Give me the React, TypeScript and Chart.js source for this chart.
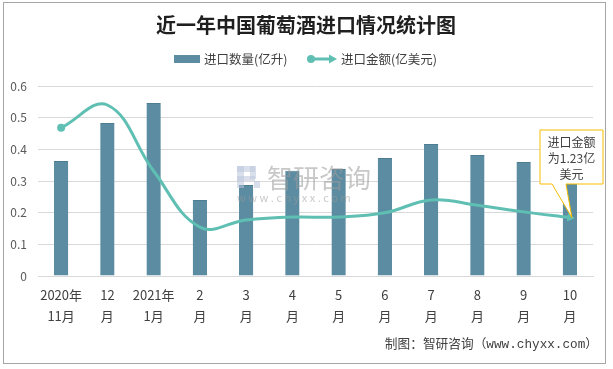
import React, { useEffect, useRef } from "react";
import { Chart, registerables } from "chart.js";

Chart.register(...registerables);

const categories: string[][] = [
  ["2020年", "11月"], ["12", "月"], ["2021年", "1月"], ["2", "月"], ["3", "月"], ["4", "月"],
  ["5", "月"], ["6", "月"], ["7", "月"], ["8", "月"], ["9", "月"], ["10", "月"],
];
const volumeValues = [0.363, 0.483, 0.546, 0.24, 0.287, 0.332, 0.338, 0.373, 0.417, 0.382, 0.36, 0.3];
const amountValues = [3.12, 3.6, 2.21, 1.03, 1.18, 1.24, 1.24, 1.33, 1.6, 1.49, 1.35, 1.23];
const yMax = 0.6;
const yStep = 0.1;
const y1Max = 4;
const titleText = "近一年中国葡萄酒进口情况统计图";
const legendLabels = ["进口数量(亿升)", "进口金额(亿美元)"];
const calloutLines = ["进口金额", "为1.23亿", "美元"];
const watermarkText = "智研咨询";
const watermarkUrl = "w w w . c h y x x . c o m";
const sourceText = "制图：智研咨询（www.chyxx.com）";

const BAR_COLOR = "#5b8ca2";
const LINE_COLOR = "#5fbfb3";
const CJK = '"Noto Sans CJK SC", "Noto Sans", sans-serif';

const decorPlugin = {
  id: "decor",
  beforeDraw(chart: any) {
    const ctx = chart.ctx;
    ctx.save();
    ctx.fillStyle = "#ffffff";
    ctx.fillRect(0, 0, chart.width, chart.height);
    ctx.restore();
  },
  afterDatasetsDraw(chart: any) {
    const ctx = chart.ctx;
    // watermark
    ctx.save();
    ctx.globalAlpha = 0.55;
    ctx.fillStyle = "#b9c6dd";
    ctx.fillRect(237, 166, 7, 22);
    ctx.fillRect(237, 166, 18, 6);
    ctx.fillRect(250, 166, 6, 13);
    ctx.fillRect(237, 176, 18, 5);
    ctx.fillRect(254, 181, 6, 7);
    ctx.fillStyle = "#9a9a9a";
    ctx.font = `26px ${CJK}`;
    ctx.textBaseline = "middle";
    ctx.textAlign = "left";
    ctx.fillText(watermarkText, 267, 178);
    ctx.font = `11px ${CJK}`;
    ctx.fillText(watermarkUrl, 237, 198);
    ctx.restore();

    // callout
    const meta = chart.getDatasetMeta(1);
    const last = meta.data[meta.data.length - 1];
    const tipX = last.x + 2;
    const tipY = last.y;
    const L = 540, R = 603, T = 130, B = 184;
    ctx.save();
    ctx.beginPath();
    ctx.moveTo(L, T);
    ctx.lineTo(R, T);
    ctx.lineTo(R, B);
    ctx.lineTo(566, B);
    ctx.lineTo(tipX, tipY);
    ctx.lineTo(552, B);
    ctx.lineTo(L, B);
    ctx.closePath();
    ctx.fillStyle = "#ffffff";
    ctx.fill();
    ctx.strokeStyle = "#f5bd00";
    ctx.lineWidth = 1;
    ctx.stroke();
    ctx.fillStyle = "#404040";
    ctx.font = `12px ${CJK}`;
    ctx.textAlign = "center";
    ctx.textBaseline = "middle";
    calloutLines.forEach((t, i) => ctx.fillText(t, 571.5, 142 + i * 16));
    ctx.restore();
  },
  afterDraw(chart: any) {
    const ctx = chart.ctx;
    ctx.save();
    // border
    ctx.strokeStyle = "#a6a6a6";
    ctx.lineWidth = 1;
    ctx.strokeRect(3.5, 2.5, 602, 361);
    // title
    ctx.fillStyle = "#1f1f1f";
    ctx.font = `bold 20px ${CJK}`;
    ctx.textAlign = "center";
    ctx.textBaseline = "middle";
    ctx.fillText(titleText, 306, 25);
    // legend
    ctx.textAlign = "left";
    ctx.font = `12.5px ${CJK}`;
    ctx.fillStyle = BAR_COLOR;
    ctx.fillRect(174, 55, 26, 8);
    ctx.fillStyle = "#404040";
    ctx.fillText(legendLabels[0], 204, 59);
    ctx.strokeStyle = LINE_COLOR;
    ctx.fillStyle = LINE_COLOR;
    ctx.lineWidth = 3;
    ctx.beginPath();
    ctx.moveTo(311, 59);
    ctx.lineTo(330, 59);
    ctx.stroke();
    ctx.beginPath();
    ctx.arc(311, 59, 4, 0, Math.PI * 2);
    ctx.fill();
    ctx.beginPath();
    ctx.moveTo(337, 59);
    ctx.lineTo(329, 54.5);
    ctx.lineTo(329, 63.5);
    ctx.closePath();
    ctx.fill();
    ctx.fillStyle = "#404040";
    ctx.fillText(legendLabels[1], 341, 59);
    // source
    ctx.font = `12.7px "Liberation Mono", ${CJK}`;
    ctx.textAlign = "right";
    ctx.fillStyle = "#404040";
    ctx.fillText(sourceText, 598, 345);
    ctx.restore();
  },
};

export default function App() {
  const ref = useRef<HTMLCanvasElement | null>(null);
  useEffect(() => {
    if (!ref.current) return;
    const n = amountValues.length;
    const chart = new Chart(ref.current, {
      type: "bar",
      data: {
        labels: categories,
        datasets: [
          {
            type: "bar",
            label: legendLabels[0],
            data: volumeValues,
            backgroundColor: BAR_COLOR,
            borderColor: "#4c7d93",
            borderWidth: { top: 1, left: 0, right: 0, bottom: 0 },
            barPercentage: 0.31,
            categoryPercentage: 1,
            yAxisID: "y",
            order: 2,
          },
          {
            type: "line",
            label: legendLabels[1],
            data: amountValues,
            borderColor: LINE_COLOR,
            backgroundColor: LINE_COLOR,
            borderWidth: 3,
            tension: 0.4,
            pointStyle: amountValues.map((_, i) => (i === n - 1 ? "triangle" : "circle")),
            pointRadius: amountValues.map((_, i) => (i === 0 ? 4 : i === n - 1 ? 5 : 0)),
            pointRotation: amountValues.map((_, i) => (i === n - 1 ? 97 : 0)),
            pointBorderWidth: 0,
            pointBackgroundColor: LINE_COLOR,
            yAxisID: "y1",
            order: 1,
          } as any,
        ],
      },
      options: {
        animation: false,
        responsive: false,
        devicePixelRatio: 1,
        events: [],
        layout: { padding: { left: 0, top: 86, right: 20, bottom: 0 } },
        plugins: { legend: { display: false }, tooltip: { enabled: false }, title: { display: false } },
        scales: {
          x: {
            grid: { display: false, drawTicks: false },
            border: { display: true, color: "#d9d9d9" },
            ticks: {
              autoSkip: false,
              maxRotation: 0,
              minRotation: 0,
              padding: 8.5,
              color: "#404040",
              font: { family: CJK, size: 13, lineHeight: 21 / 13 },
            },
            afterFit: (s: any) => { s.height = 369 - 276; },
          },
          y: {
            min: 0,
            max: yMax,
            ticks: {
              stepSize: yStep,
              padding: 11,
              color: "#595959",
              font: { family: CJK, size: 12 },
              callback: (v: any) => (Number(v) === 0 ? "0" : Number(v).toFixed(1)),
            },
            grid: { color: "#d9d9d9", drawTicks: false },
            border: { display: false },
            afterFit: (s: any) => { s.width = 38; },
          },
          y1: { display: false, min: 0, max: y1Max, position: "right" },
        },
      },
      plugins: [decorPlugin],
    });
    return () => chart.destroy();
  }, []);
  return (
    <div style={{ position: "fixed", left: 0, top: 0, width: 613, height: 369, background: "#fff" }}>
      <canvas ref={ref} width={613} height={369} style={{ display: "block" }} />
    </div>
  );
}
